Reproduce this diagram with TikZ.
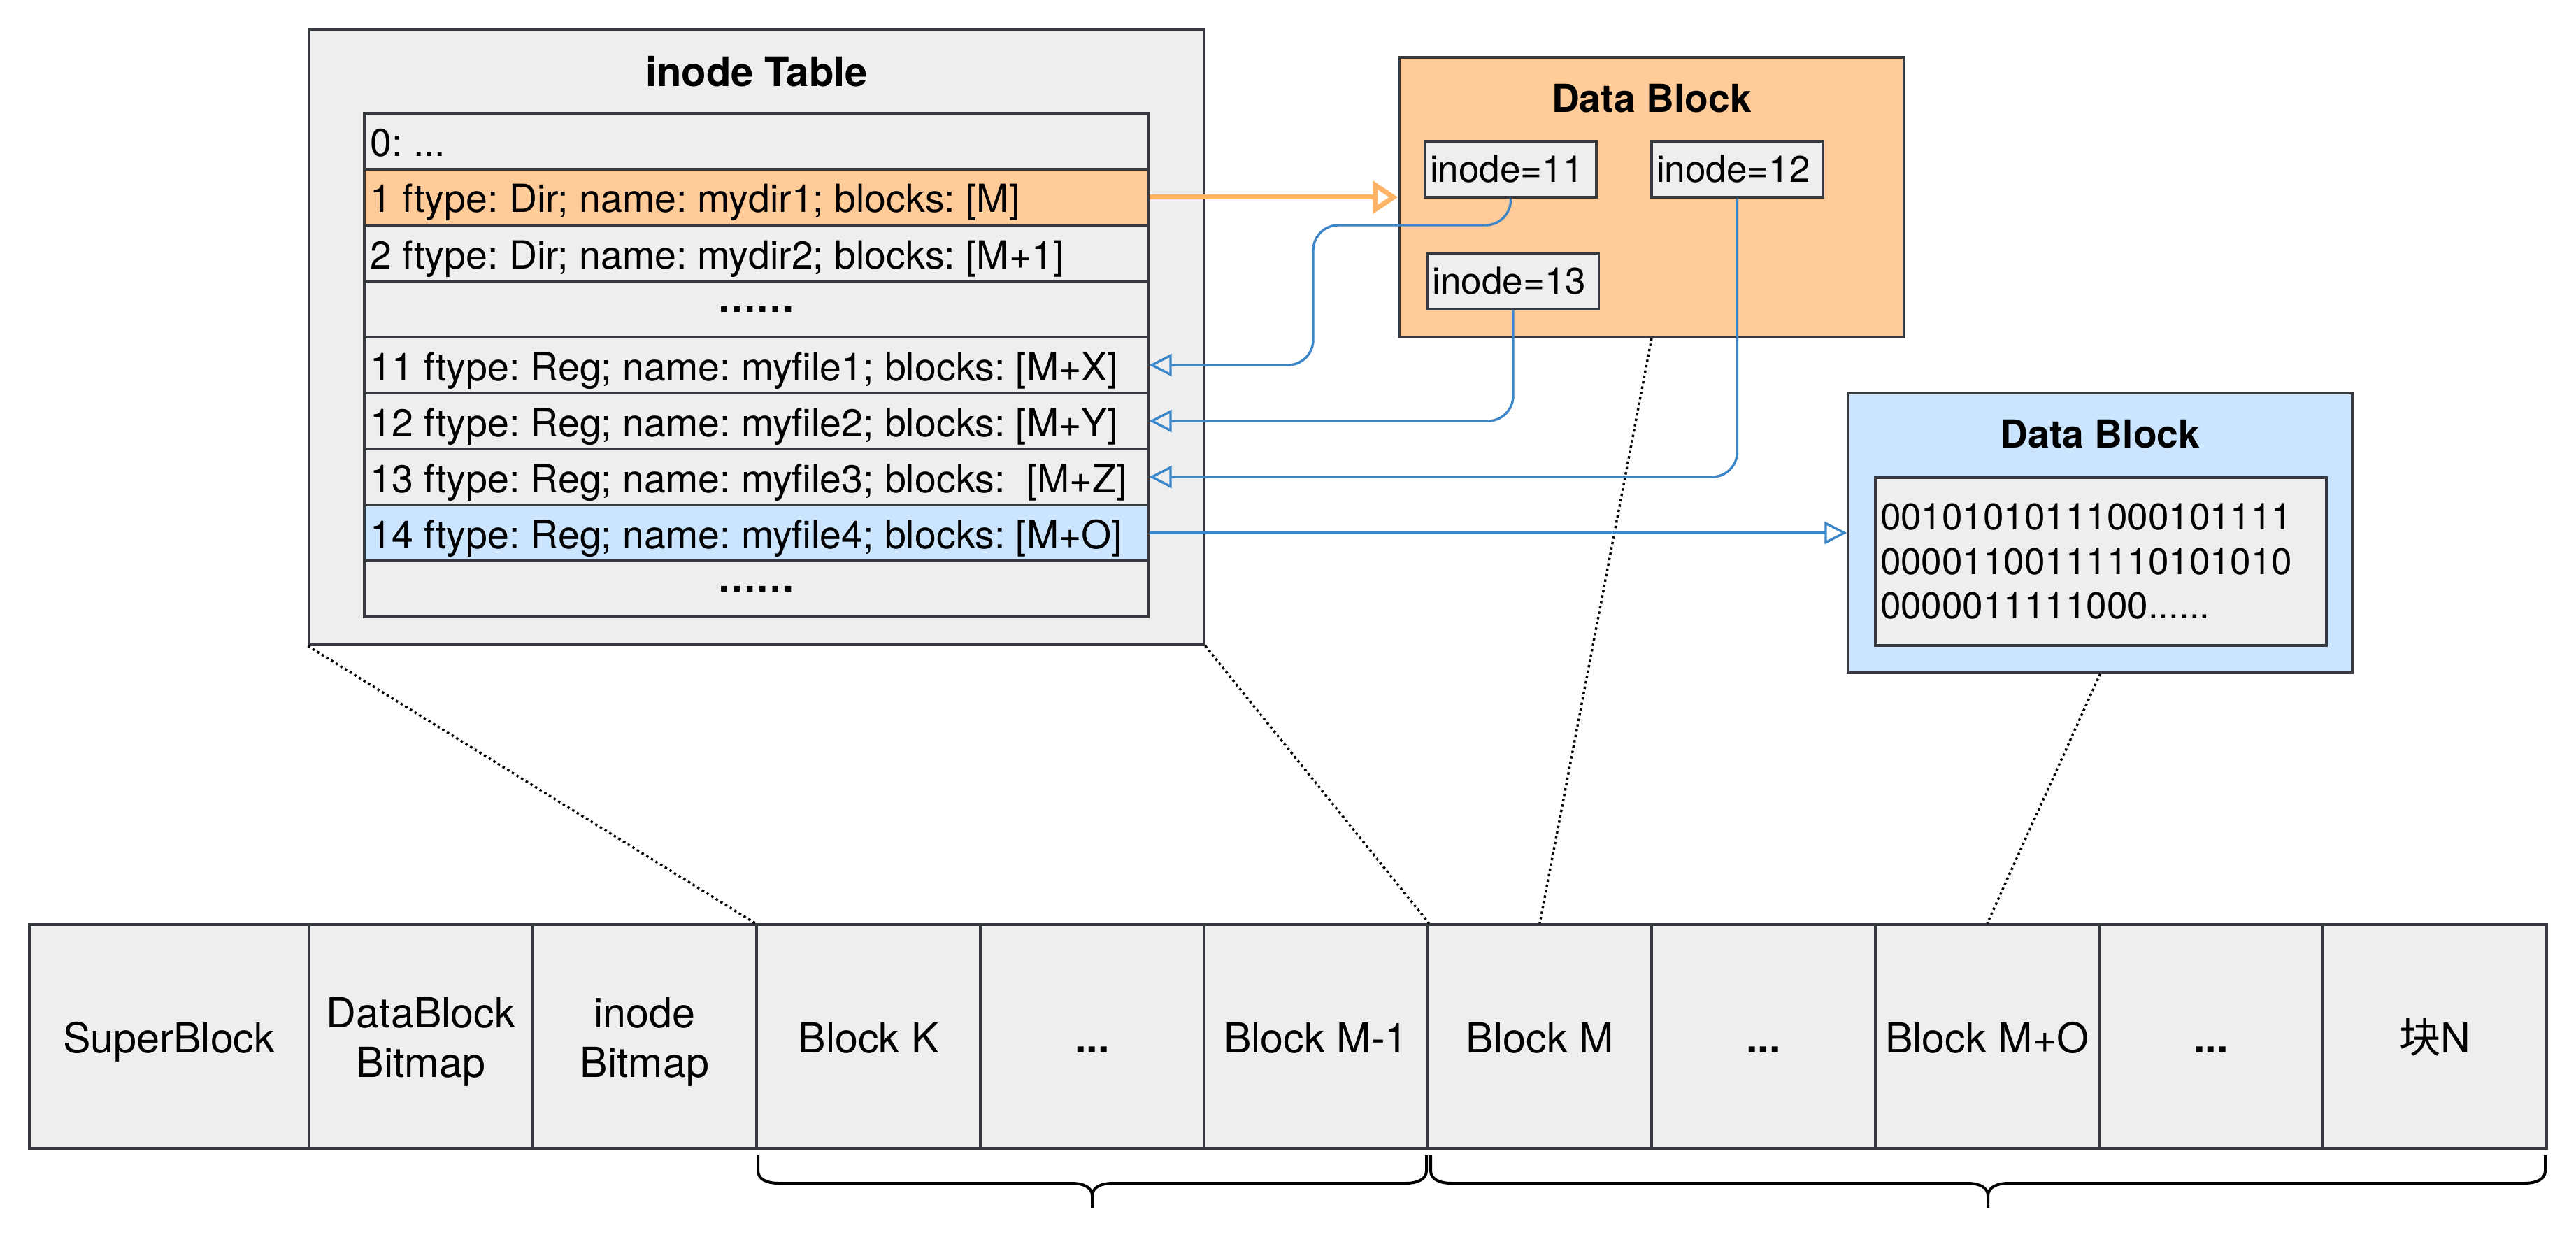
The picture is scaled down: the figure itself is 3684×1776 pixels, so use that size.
\documentclass[tikz,border=0pt]{standalone}
\usepackage{fontspec}
\setmainfont{TeX Gyre Heros}
\newfontfamily\cjk{Noto Sans CJK SC}
\usetikzlibrary{arrows.meta}
\definecolor{strk}{HTML}{36393D}
\definecolor{grayfill}{HTML}{EEEEEE}
\definecolor{orangefill}{HTML}{FFCC99}
\definecolor{bluefill}{HTML}{CCE5FF}
\definecolor{orangeline}{HTML}{FFB366}
\definecolor{blueline}{HTML}{3B86C8}
\newcommand\fRow{\fontsize{13.85pt}{16.6pt}\selectfont}
\newcommand\fSmall{\fontsize{13.25pt}{15.9pt}\selectfont}
\newcommand\fStrip{\fontsize{14.8pt}{17.75pt}\selectfont}
\newcommand\fTitleA{\fontsize{14.5pt}{17pt}\selectfont\bfseries}
\newcommand\fTitleB{\fontsize{13.8pt}{16.5pt}\selectfont\bfseries}
\newcommand\rowtxt[1]{\makebox[276pt][l]{#1}}
\frenchspacing
\begin{document}
\begin{tikzpicture}[x=0.25pt,y=-0.25pt,
  box/.style={draw=strk, line width=0.85pt, fill=grayfill, inner sep=0pt},
  rowbox/.style={box, minimum width=280.25pt, minimum height=20pt, font=\fRow, text height=11pt, text depth=0pt},
  dotrow/.style={box, minimum width=280.25pt, minimum height=20pt, font=\fRow\bfseries},
  ibox/.style={box, minimum width=61.25pt, minimum height=20pt, text width=57.75pt, align=left, font=\fSmall},
  cell/.style={box, minimum height=80pt, minimum width=80pt, align=center, font=\fStrip},
  onecell/.style={cell, text height=11.5pt, text depth=0pt},
  celltext/.style={inner sep=0pt, align=center, font=\fStrip},
  dotline/.style={draw=black, line width=0.85pt, dash pattern=on 0.85pt off 1.1pt},
  blarrow/.style={draw=blueline, line width=0.85pt, -{Triangle[open, length=8pt, width=8pt]}, rounded corners=9pt},
  orarrow/.style={draw=orangeline, line width=1.75pt, -{Triangle[open, length=9pt, width=11.5pt]}},
  brace/.style={draw=black, line width=1pt}
]
\fill[white] (0,0) rectangle (3684,1776);
\useasboundingbox (0,0) rectangle (3684,1776);

% inode table
\node[box, minimum width=320pt, minimum height=220pt] (itable) at (1082,482) {};
\node[font=\fTitleA] (ititle) at (1082,102) {inode Table};
\node[rowbox] (r0) at (1081.5,202) {\rowtxt{0: ...}};
\node[rowbox, fill=orangefill] (r1) at (1081.5,282) {\rowtxt{1 ftype: Dir; name: mydir1; blocks: [M]}};
\node[rowbox] (r2) at (1081.5,362) {\rowtxt{2 ftype: Dir; name: mydir2; blocks: [M+1]}};
\node[dotrow] (r3) at (1081.5,442) {……};
\node[rowbox] (r11) at (1081.5,522) {\rowtxt{11 ftype: Reg; name: myfile1; blocks: [M+X]}};
\node[rowbox] (r12) at (1081.5,602) {\rowtxt{12 ftype: Reg; name: myfile2; blocks: [M+Y]}};
\node[rowbox] (r13) at (1081.5,682) {\rowtxt{13 ftype: Reg; name: myfile3; blocks:\ \ [M+Z]}};
\node[rowbox, fill=bluefill] (r14) at (1081.5,762) {\rowtxt{14 ftype: Reg; name: myfile4; blocks: [M+O]}};
\node[dotrow] (r15) at (1081.5,842) {……};

% orange data block
\node[box, fill=orangefill, minimum width=180.5pt, minimum height=100pt] (dataO) at (2362,282) {};
\node[font=\fTitleB] (otitle) at (2362,141) {Data Block};
\node[ibox] (i11) at (2160.5,242) {inode=11};
\node[ibox] (i12) at (2484.5,242) {inode=12};
\node[ibox] (i13) at (2164,402) {inode=13};

% blue data block
\node[box, fill=bluefill, minimum width=180.25pt, minimum height=100pt] (dataB) at (3003.5,762) {};
\node[font=\fTitleB] (btitle) at (3003.5,621) {Data Block};
\node[box, minimum width=161.25pt, minimum height=60pt, text width=157.75pt, align=left, font=\fSmall] (bin) at (3004.5,803) {00101010111000101111\\00001100111110101010\\0000011111000......};

% strip
\node[onecell, minimum width=100pt] (sb) at (242,1482) {SuperBlock};
\node[cell] (dbb) at (602,1482) {};
\node[celltext] (dbbt) at (602,1490) {DataBlock\\Bitmap};
\node[cell] (ibm) at (922,1482) {};
\node[celltext] (ibmt) at (922,1490) {inode\\Bitmap};
\node[onecell] (bk) at (1242,1482) {Block K};
\node[onecell, font=\fStrip\bfseries] (d1) at (1562,1482) {...};
\node[onecell] (bm1) at (1882,1482) {Block M-1};
\node[onecell] (bm) at (2202,1482) {Block M};
\node[onecell, font=\fStrip\bfseries] (d2) at (2522,1482) {...};
\node[onecell] (bmo) at (2842,1482) {Block M+O};
\node[onecell, font=\fStrip\bfseries] (d3) at (3162,1482) {...};
\node[onecell] (bn) at (3482,1482) {{\cjk 块}N};

% dotted guide lines
\draw[dotline] (itable.south west) -- (bk.north west);
\draw[dotline] (itable.south east) -- (bm1.north east);
\draw[dotline] (dataO.south) -- (bm.north);
\draw[dotline] (dataB.south) -- (bmo.north);

% connectors
\draw[orarrow] (r1.east) -- (dataO.west);
\coordinate (bend11) at (1878,322);
\draw[blarrow] (i11.south) |- (bend11) |- (r11.east);
\draw[blarrow] (i13.south) |- (r12.east);
\draw[blarrow] (i12.south) |- (r13.east);
\draw[blarrow] (r14.east) -- (dataB.west);

% braces
\draw[brace] (1084,1652) -- (1084,1674) .. controls (1084,1686) and (1096,1692) .. (1114,1692) -- (1532,1692) .. controls (1550,1692) and (1562,1698) .. (1562,1710) -- (1562,1727);
\draw[brace] (1562,1710) .. controls (1562,1698) and (1574,1692) .. (1592,1692) -- (2010,1692) .. controls (2028,1692) and (2040,1686) .. (2040,1674) -- (2040,1652);
\draw[brace] (2046,1652) -- (2046,1674) .. controls (2046,1686) and (2058,1692) .. (2076,1692) -- (2813,1692) .. controls (2831,1692) and (2843,1698) .. (2843,1710) -- (2843,1727);
\draw[brace] (2843,1710) .. controls (2843,1698) and (2855,1692) .. (2873,1692) -- (3610,1692) .. controls (3628,1692) and (3640,1686) .. (3640,1674) -- (3640,1652);
\end{tikzpicture}
\end{document}
